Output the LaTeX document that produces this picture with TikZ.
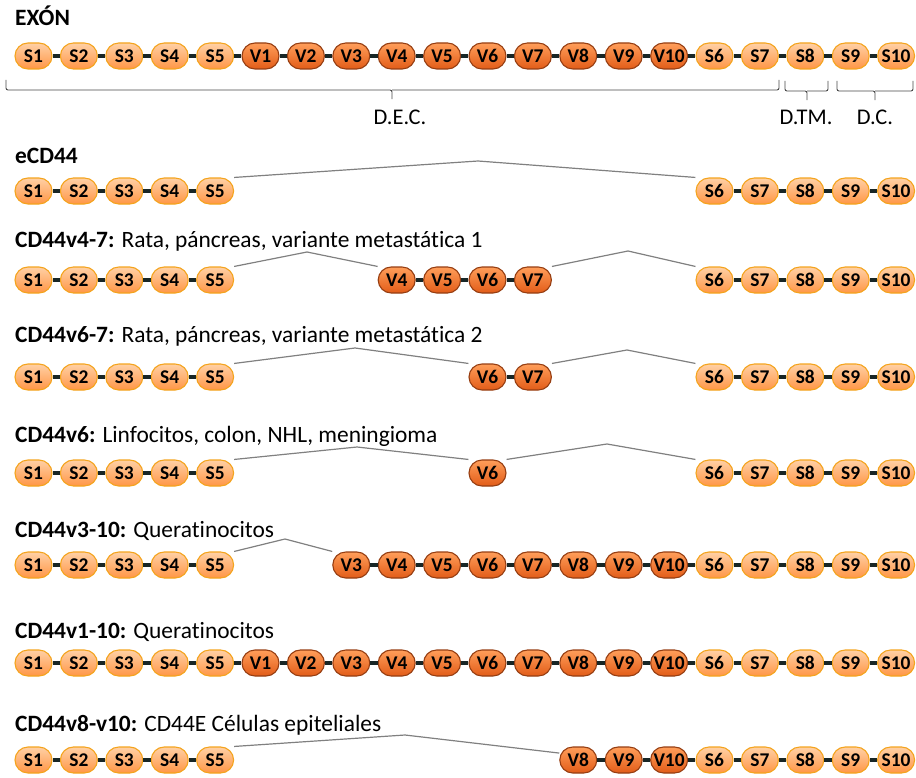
\documentclass[tikz,border=0pt]{standalone}
\usepackage{fontspec}
\setmainfont{Carlito}[Ligatures=NoCommon]
\usetikzlibrary{backgrounds}

\definecolor{stop}{RGB}{255,208,165}
\definecolor{sbot}{RGB}{255,150,70}
\definecolor{sline}{RGB}{244,164,30}
\definecolor{vtop}{RGB}{255,158,90}
\definecolor{vbot}{RGB}{226,92,24}
\definecolor{vline}{RGB}{150,62,18}
\definecolor{linkcol}{RGB}{24,38,38}
\definecolor{splicecol}{RGB}{128,128,128}
\definecolor{bracecol}{RGB}{70,70,70}

\begin{document}
\begin{tikzpicture}[x=1bp,y=-1bp,
    exon/.style={draw, rounded corners=13bp, minimum width=37bp, minimum height=26bp, inner sep=0pt, line width=1.1bp, font=\fontsize{19.5}{19.5}\selectfont\bfseries},
    snode/.style={exon, draw=sline, top color=stop, bottom color=sbot},
    vnode/.style={exon, draw=vline, top color=vtop, bottom color=vbot},
    link/.style={draw=linkcol, line width=4bp},
    splice/.style={draw=splicecol, line width=1.2bp},
    bracketline/.style={draw=bracecol, line width=0.9bp, rounded corners=2bp},
    rowtitle/.style={anchor=base west, inner sep=0pt, font=\fontsize{23.5}{25}\selectfont},
    dlabel/.style={anchor=base, inner sep=0pt, font=\fontsize{22.5}{24}\selectfont}
    ]
    \useasboundingbox (0,0) rectangle (916,778);

    % EXON
    \node [rowtitle] (ta) at (15,26) {\textbf{EXÓN}};
    \node [snode] (a1) at (33.5,56) {S1};
    \node [snode] (a2) at (78.9,56) {S2};
    \node [snode] (a3) at (124.3,56) {S3};
    \node [snode] (a4) at (169.7,56) {S4};
    \node [snode] (a5) at (215.1,56) {S5};
    \node [vnode] (a6) at (260.5,56) {V1};
    \node [vnode] (a7) at (305.9,56) {V2};
    \node [vnode] (a8) at (351.3,56) {V3};
    \node [vnode] (a9) at (396.7,56) {V4};
    \node [vnode] (a10) at (442.1,56) {V5};
    \node [vnode] (a11) at (487.5,56) {V6};
    \node [vnode] (a12) at (532.9,56) {V7};
    \node [vnode] (a13) at (578.3,56) {V8};
    \node [vnode] (a14) at (623.7,56) {V9};
    \node [vnode] (a15) at (669.1,56) {V10};
    \node [snode] (a16) at (714.5,56) {S6};
    \node [snode] (a17) at (759.9,56) {S7};
    \node [snode] (a18) at (805.3,56) {S8};
    \node [snode] (a19) at (850.7,56) {S9};
    \node [snode] (a20) at (896.1,56) {S10};
    \draw [link] (a1) -- (a2) -- (a3) -- (a4) -- (a5) -- (a6) -- (a7) -- (a8) -- (a9) -- (a10)
        -- (a11) -- (a12) -- (a13) -- (a14) -- (a15) -- (a16) -- (a17) -- (a18) -- (a19) -- (a20);

    % domains
    \draw [bracketline] (6,80) |- (392,90) -- (392,99);
    \draw [bracketline] (392,90) -| (779,80);
    \draw [bracketline] (785,81) |- (807,91) -- (807,100);
    \draw [bracketline] (807,91) -| (828,81);
    \draw [bracketline] (837,81) |- (875,91) -- (875,100);
    \draw [bracketline] (875,91) -| (913,81);
    \node [dlabel] (dec) at (400,124) {D.E.C.};
    \node [dlabel] (dtm) at (806,124) {D.TM.};
    \node [dlabel] (dc) at (875,124) {D.C.};

    % eCD44
    \node [rowtitle] (tb) at (15,163) {\textbf{eCD44}};
    \node [snode] (b1) at (33.5,191) {S1};
    \node [snode] (b2) at (78.9,191) {S2};
    \node [snode] (b3) at (124.3,191) {S3};
    \node [snode] (b4) at (169.7,191) {S4};
    \node [snode] (b5) at (215.1,191) {S5};
    \node [snode] (b6) at (714.5,191) {S6};
    \node [snode] (b7) at (759.9,191) {S7};
    \node [snode] (b8) at (805.3,191) {S8};
    \node [snode] (b9) at (850.7,191) {S9};
    \node [snode] (b10) at (896.1,191) {S10};
    \draw [link] (b1) -- (b2) -- (b3) -- (b4) -- (b5);
    \draw [link] (b6) -- (b7) -- (b8) -- (b9) -- (b10);
    \coordinate (bt) at (478,161);

    % CD44v4-7
    \node [rowtitle] (tc) at (15,247) {\textbf{CD44v4-7:} Rata, páncreas, variante metastática 1};
    \node [snode] (c1) at (33.5,280) {S1};
    \node [snode] (c2) at (78.9,280) {S2};
    \node [snode] (c3) at (124.3,280) {S3};
    \node [snode] (c4) at (169.7,280) {S4};
    \node [snode] (c5) at (215.1,280) {S5};
    \node [vnode] (c6) at (396.7,280) {V4};
    \node [vnode] (c7) at (442.1,280) {V5};
    \node [vnode] (c8) at (487.5,280) {V6};
    \node [vnode] (c9) at (532.9,280) {V7};
    \node [snode] (c10) at (714.5,280) {S6};
    \node [snode] (c11) at (759.9,280) {S7};
    \node [snode] (c12) at (805.3,280) {S8};
    \node [snode] (c13) at (850.7,280) {S9};
    \node [snode] (c14) at (896.1,280) {S10};
    \draw [link] (c1) -- (c2) -- (c3) -- (c4) -- (c5);
    \draw [link] (c6) -- (c7) -- (c8) -- (c9);
    \draw [link] (c10) -- (c11) -- (c12) -- (c13) -- (c14);
    \coordinate (ct1) at (307,252);
    \coordinate (ct2) at (628,251);

    % CD44v6-7
    \node [rowtitle] (td) at (15,342) {\textbf{CD44v6-7:} Rata, páncreas, variante metastática 2};
    \node [snode] (d1) at (33.5,377) {S1};
    \node [snode] (d2) at (78.9,377) {S2};
    \node [snode] (d3) at (124.3,377) {S3};
    \node [snode] (d4) at (169.7,377) {S4};
    \node [snode] (d5) at (215.1,377) {S5};
    \node [vnode] (d6) at (487.5,377) {V6};
    \node [vnode] (d7) at (532.9,377) {V7};
    \node [snode] (d8) at (714.5,377) {S6};
    \node [snode] (d9) at (759.9,377) {S7};
    \node [snode] (d10) at (805.3,377) {S8};
    \node [snode] (d11) at (850.7,377) {S9};
    \node [snode] (d12) at (896.1,377) {S10};
    \draw [link] (d1) -- (d2) -- (d3) -- (d4) -- (d5);
    \draw [link] (d6) -- (d7);
    \draw [link] (d8) -- (d9) -- (d10) -- (d11) -- (d12);
    \coordinate (dt1) at (355,348);
    \coordinate (dt2) at (627,350);

    % CD44v6
    \node [rowtitle] (te) at (15,442) {\textbf{CD44v6:} Linfocitos, colon, NHL, meningioma};
    \node [snode] (e1) at (33.5,473) {S1};
    \node [snode] (e2) at (78.9,473) {S2};
    \node [snode] (e3) at (124.3,473) {S3};
    \node [snode] (e4) at (169.7,473) {S4};
    \node [snode] (e5) at (215.1,473) {S5};
    \node [vnode] (e6) at (487.5,473) {V6};
    \node [snode] (e7) at (714.5,473) {S6};
    \node [snode] (e8) at (759.9,473) {S7};
    \node [snode] (e9) at (805.3,473) {S8};
    \node [snode] (e10) at (850.7,473) {S9};
    \node [snode] (e11) at (896.1,473) {S10};
    \draw [link] (e1) -- (e2) -- (e3) -- (e4) -- (e5);
    \draw [link] (e7) -- (e8) -- (e9) -- (e10) -- (e11);
    \coordinate (et1) at (357,447);
    \coordinate (et2) at (607,444);

    % CD44v3-10
    \node [rowtitle] (tf) at (15,537) {\textbf{CD44v3-10:} Queratinocitos};
    \node [snode] (f1) at (33.5,565) {S1};
    \node [snode] (f2) at (78.9,565) {S2};
    \node [snode] (f3) at (124.3,565) {S3};
    \node [snode] (f4) at (169.7,565) {S4};
    \node [snode] (f5) at (215.1,565) {S5};
    \node [vnode] (f6) at (351.3,565) {V3};
    \node [vnode] (f7) at (396.7,565) {V4};
    \node [vnode] (f8) at (442.1,565) {V5};
    \node [vnode] (f9) at (487.5,565) {V6};
    \node [vnode] (f10) at (532.9,565) {V7};
    \node [vnode] (f11) at (578.3,565) {V8};
    \node [vnode] (f12) at (623.7,565) {V9};
    \node [vnode] (f13) at (669.1,565) {V10};
    \node [snode] (f14) at (714.5,565) {S6};
    \node [snode] (f15) at (759.9,565) {S7};
    \node [snode] (f16) at (805.3,565) {S8};
    \node [snode] (f17) at (850.7,565) {S9};
    \node [snode] (f18) at (896.1,565) {S10};
    \draw [link] (f1) -- (f2) -- (f3) -- (f4) -- (f5);
    \draw [link] (f6) -- (f7) -- (f8) -- (f9) -- (f10) -- (f11) -- (f12) -- (f13)
        -- (f14) -- (f15) -- (f16) -- (f17) -- (f18);
    \coordinate (ft) at (285,539);

    % CD44v1-10
    \node [rowtitle] (tg) at (15,638) {\textbf{CD44v1-10:} Queratinocitos};
    \node [snode] (g1) at (33.5,663) {S1};
    \node [snode] (g2) at (78.9,663) {S2};
    \node [snode] (g3) at (124.3,663) {S3};
    \node [snode] (g4) at (169.7,663) {S4};
    \node [snode] (g5) at (215.1,663) {S5};
    \node [vnode] (g6) at (260.5,663) {V1};
    \node [vnode] (g7) at (305.9,663) {V2};
    \node [vnode] (g8) at (351.3,663) {V3};
    \node [vnode] (g9) at (396.7,663) {V4};
    \node [vnode] (g10) at (442.1,663) {V5};
    \node [vnode] (g11) at (487.5,663) {V6};
    \node [vnode] (g12) at (532.9,663) {V7};
    \node [vnode] (g13) at (578.3,663) {V8};
    \node [vnode] (g14) at (623.7,663) {V9};
    \node [vnode] (g15) at (669.1,663) {V10};
    \node [snode] (g16) at (714.5,663) {S6};
    \node [snode] (g17) at (759.9,663) {S7};
    \node [snode] (g18) at (805.3,663) {S8};
    \node [snode] (g19) at (850.7,663) {S9};
    \node [snode] (g20) at (896.1,663) {S10};
    \draw [link] (g1) -- (g2) -- (g3) -- (g4) -- (g5) -- (g6) -- (g7) -- (g8) -- (g9) -- (g10)
        -- (g11) -- (g12) -- (g13) -- (g14) -- (g15) -- (g16) -- (g17) -- (g18) -- (g19) -- (g20);

    % CD44v8-v10
    \node [rowtitle] (th) at (15,731) {\textbf{CD44v8-v10:} CD44E Células epiteliales};
    \node [snode] (h1) at (33.5,760) {S1};
    \node [snode] (h2) at (78.9,760) {S2};
    \node [snode] (h3) at (124.3,760) {S3};
    \node [snode] (h4) at (169.7,760) {S4};
    \node [snode] (h5) at (215.1,760) {S5};
    \node [vnode] (h6) at (578.3,760) {V8};
    \node [vnode] (h7) at (623.7,760) {V9};
    \node [vnode] (h8) at (669.1,760) {V10};
    \node [snode] (h9) at (714.5,760) {S6};
    \node [snode] (h10) at (759.9,760) {S7};
    \node [snode] (h11) at (805.3,760) {S8};
    \node [snode] (h12) at (850.7,760) {S9};
    \node [snode] (h13) at (896.1,760) {S10};
    \draw [link] (h1) -- (h2) -- (h3) -- (h4) -- (h5);
    \draw [link] (h6) -- (h7) -- (h8) -- (h9) -- (h10) -- (h11) -- (h12) -- (h13);
    \coordinate (ht) at (405,735);

    % spliced-out parts
    \begin{scope}[on background layer]
    \draw [splice] (b5.north east) -- (bt) -- (b6.north west);
    \draw [splice] (c5.north east) -- (ct1) -- (c6.north west);
    \draw [splice] (c9.north east) -- (ct2) -- (c10.north west);
    \draw [splice] (d5.north east) -- (dt1) -- (d6.north west);
    \draw [splice] (d7.north east) -- (dt2) -- (d8.north west);
    \draw [splice] (e5.north east) -- (et1) -- (e6.north west);
    \draw [splice] (e6.north east) -- (et2) -- (e7.north west);
    \draw [splice] (f5.north east) -- (ft) -- (f6.north west);
    \draw [splice] (h5.north east) -- (ht) -- (h6.160);
    \end{scope}
\end{tikzpicture}
\end{document}
